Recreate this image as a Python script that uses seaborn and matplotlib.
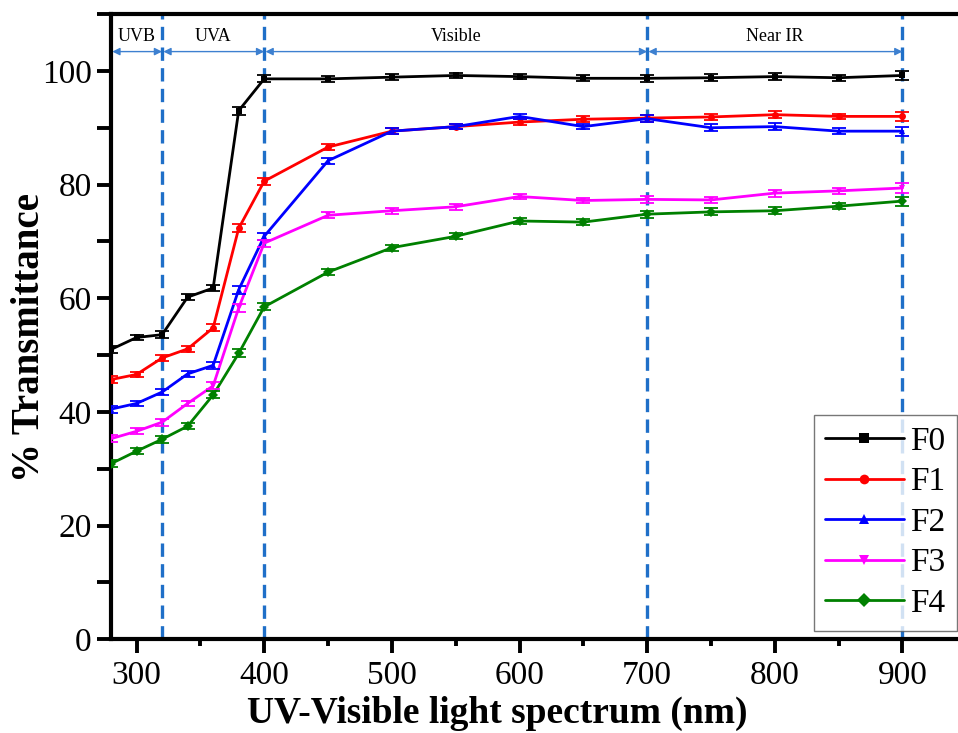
import numpy as np
import pandas as pd
import matplotlib
matplotlib.use("Agg")
import matplotlib.pyplot as plt
from matplotlib.lines import Line2D
from matplotlib.ticker import MultipleLocator
import seaborn as sns

# wavelengths (nm) and % transmittance
wavelength = [280, 300, 320, 340, 360, 380, 400, 450, 500, 550, 600, 650, 700, 750, 800, 850, 900]
f0 = [51.0, 53.1, 53.6, 60.2, 61.8, 93.0, 98.6, 98.6, 98.9, 99.2, 99.0, 98.7, 98.7, 98.8, 99.0, 98.8, 99.2]
f1 = [45.7, 46.6, 49.5, 51.1, 54.8, 72.3, 80.6, 86.6, 89.4, 90.2, 91.0, 91.5, 91.7, 91.9, 92.3, 92.0, 92.0]
f2 = [40.5, 41.5, 43.5, 46.7, 48.2, 61.5, 70.9, 84.2, 89.4, 90.2, 92.0, 90.2, 91.6, 90.0, 90.2, 89.4, 89.4]
f3 = [35.3, 36.6, 38.2, 41.5, 44.6, 58.3, 69.7, 74.6, 75.4, 76.1, 77.9, 77.2, 77.4, 77.3, 78.5, 78.9, 79.4]
f4 = [30.9, 33.1, 35.2, 37.5, 43.0, 50.3, 58.5, 64.6, 68.9, 70.9, 73.6, 73.4, 74.8, 75.2, 75.4, 76.2, 77.1]
err = [0.6, 0.5, 0.6, 0.5, 0.6, 0.7, 0.6, 0.5, 0.5, 0.5, 0.5, 0.5, 0.6, 0.6, 0.6, 0.5, 0.8]

samples = ["F0", "F1", "F2", "F3", "F4"]
colors = ["black", "#ff0000", "#0000ff", "#ff00ff", "#008000"]
markers = ["s", "o", "^", "v", "D"]

df = pd.DataFrame({
    "wl": wavelength * 5,
    "T": f0 + f1 + f2 + f3 + f4,
    "sample": sum([[s] * len(wavelength) for s in samples], []),
})

sns.set_style("ticks")
plt.rcParams["font.family"] = ["Liberation Serif", "DejaVu Serif"]
plt.rcParams["text.color"] = "black"
plt.rcParams["axes.labelcolor"] = "black"
plt.rcParams["xtick.color"] = "black"
plt.rcParams["ytick.color"] = "black"
plt.rcParams["axes.edgecolor"] = "black"

fig = plt.figure(figsize=(9.58, 7.33), dpi=100)
ax = fig.add_axes([0.1159, 0.1278, 0.8841, 0.853])

# region boundaries
for xv in [320, 400, 700, 900]:
    ax.axvline(xv, color="#1f6fc8", lw=2.4, ls=(0, (4, 2.2)), zorder=1)

sns.lineplot(data=df, x="wl", y="T", hue="sample", style="sample",
             palette=colors, markers=markers, dashes=False, markersize=5,
             markeredgewidth=0, lw=2, legend=False, ax=ax, zorder=3)

for s, c, vals in zip(samples, colors, [f0, f1, f2, f3, f4]):
    ax.errorbar(wavelength, vals, yerr=err, fmt="none", ecolor=c,
                elinewidth=1.3, capsize=5, capthick=1.3, zorder=3)

# region labels with double arrows
regions = [("UVB", 280, 320), ("UVA", 320, 400), ("Visible", 400, 700), ("Near IR", 700, 900)]
for name, a, b in regions:
    ax.annotate("", xy=(b, 103.4), xytext=(a + 1, 103.4),
                arrowprops=dict(arrowstyle="<|-|>", color="#3d80d0", lw=1,
                                mutation_scale=11, shrinkA=0, shrinkB=0))
    ax.text((a + b) / 2, 106.0, name, ha="center", va="center", fontsize=13)

ax.set_xlim(280, 943.5)
ax.set_ylim(0, 110)
ax.xaxis.set_major_locator(MultipleLocator(100))
ax.xaxis.set_minor_locator(MultipleLocator(50))
ax.yaxis.set_major_locator(MultipleLocator(20))
ax.yaxis.set_minor_locator(MultipleLocator(10))
ax.tick_params(axis="x", which="major", direction="out", length=10, width=2.8, labelsize=24, pad=5)
ax.tick_params(axis="x", which="minor", direction="out", length=5, width=2.8)
ax.tick_params(axis="y", which="both", direction="out", length=10, width=2.8, labelsize=24, pad=4)

for side in ["left", "bottom", "top"]:
    ax.spines[side].set_linewidth(3)
    ax.spines[side].set_visible(True)
ax.spines["right"].set_visible(False)

ax.set_xlabel("UV-Visible light spectrum (nm)", fontsize=27, fontweight="bold", va="baseline")
ax.xaxis.set_label_coords(0.456, -0.133)
ax.set_ylabel("% Transmittance", fontsize=28, fontweight="bold", va="center")
ax.yaxis.set_label_coords(-0.0968, 0.482)

handles = [Line2D([], [], color=c, marker=m, markersize=7, lw=2, markeredgewidth=0)
           for c, m in zip(colors, markers)]
leg = ax.legend(handles, samples, loc="lower right", bbox_to_anchor=(0.999, 0.014),
                fontsize=24, frameon=True, fancybox=False, handlelength=2.35,
                borderpad=0.35, labelspacing=0.3, handletextpad=0.2, borderaxespad=0)
leg.get_frame().set_edgecolor("#555555")
leg.get_frame().set_linewidth(1)

fig.savefig("out.png", dpi=100)
